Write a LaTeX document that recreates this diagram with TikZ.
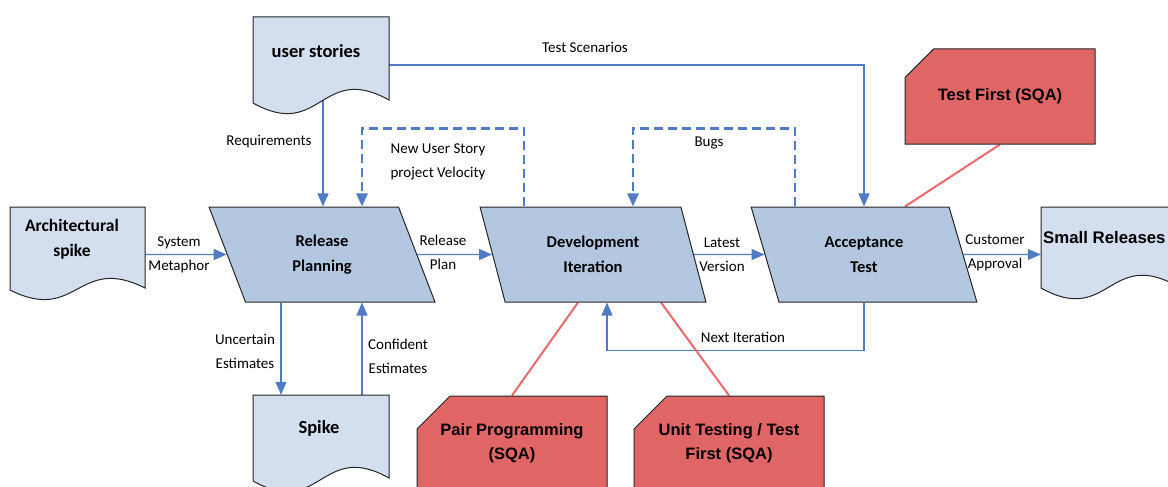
\documentclass[tikz,border=0pt]{standalone}
\usepackage{fontspec}
\setmainfont{Carlito}
\newfontfamily\arialf{Liberation Sans}
\usetikzlibrary{shapes.geometric,shapes.misc,arrows.meta}
\pgfdeclarelayer{bg}
\pgfsetlayers{bg,main}
\definecolor{parafill}{HTML}{B4C7E1}
\definecolor{docfill}{HTML}{D3DEEF}
\definecolor{redfill}{HTML}{E06666}
\definecolor{conn}{HTML}{4F7CC4}
\definecolor{redline}{HTML}{E86A6A}
\definecolor{outline}{HTML}{262626}
\begin{document}
\begin{tikzpicture}[x=1pt,y=-1pt,
  lbl/.style={font=\fontsize{15}{24}\selectfont, align=center, inner sep=0pt},
  para/.style={trapezium, trapezium left angle=110, trapezium right angle=70,
    trapezium stretches=true, minimum width=226pt, minimum height=95pt,
    draw=outline, line width=1pt, fill=parafill, align=center, inner sep=0pt,
    font=\fontsize{16.5}{24.5}\selectfont\bfseries},
  docbody/.style={rectangle, draw=none, inner sep=0pt},
  doctext/.style={font=\fontsize{18.5}{25}\selectfont\bfseries, align=center, inner sep=0pt},
  docshape/.style={draw=outline, fill=docfill, line width=1pt},
  sqa/.style={chamfered rectangle, chamfered rectangle corners=north west,
    chamfered rectangle xsep=12pt, chamfered rectangle ysep=21pt,
    draw=outline, fill=redfill, line width=1pt, minimum width=190pt,
    minimum height=95pt, inner sep=0pt, align=center,
    font=\arialf\bfseries\fontsize{16.5}{24}\selectfont},
  arr/.style={draw=conn, line width=1.3pt, -{Triangle[length=13pt,width=11pt]}},
  dasharr/.style={arr, line width=2.5pt, dash pattern=on 9pt off 5pt},
  redconn/.style={draw=redline, line width=2pt}]
\useasboundingbox (0,0) rectangle (1168,487);

% document shapes
\path[docshape] (10,207) -- (145,207) -- (145,288) .. controls (77.5,254) and (77.5,324) .. (10,290) -- cycle;
\path[docshape] (253,17) -- (389,17) -- (389,100) .. controls (321,62) and (321,141) .. (253,103) -- cycle;
\path[docshape] (253,395) -- (389,395) -- (389,478) .. controls (321,440) and (321,519) .. (253,481) -- cycle;
\path[docshape] (1041,207) -- (1177,207) -- (1177,286) .. controls (1109,248) and (1109,326) .. (1041,288) -- cycle;

\node[docbody, minimum width=135pt, minimum height=82pt] (arch) at (77.5,248) {};
\node[docbody, minimum width=136pt, minimum height=84pt] (us) at (321,59) {};
\node[docbody, minimum width=136pt, minimum height=84pt] (spike) at (321,437) {};
\node[docbody, minimum width=136pt, minimum height=80pt] (small) at (1109,247) {};

\node[doctext, font=\fontsize{17.5}{25}\selectfont\bfseries] (archT) at (72,239) {Architectural\\spike};
\node[doctext] (usT) at (316,51) {user stories};
\node[doctext] (spikeT) at (319,428) {Spike};
\node[doctext, anchor=west, font=\arialf\bfseries\fontsize{16.8}{24}\selectfont] (smallT) at (1043,237) {Small Releases};

% process shapes
\node[para] (relplan) at (322,254.5) {Release\\Planning};
\node[para] (dev) at (593,254.5) {Development\\Iteration};
\node[para] (accept) at (864,254.5) {Acceptance\\Test};

% SQA boxes
\node[sqa] (tf) at (1000,96.5) {Test First (SQA)};
\node[sqa] (pp) at (512,443.5) {Pair Programming\\(SQA)};
\node[sqa] (ut) at (729,443.5) {Unit Testing / Test\\First (SQA)};

\begin{pgfonlayer}{bg}
  \draw[arr] (arch.east |- relplan) -- (relplan);
  \draw[arr] (relplan) -- (dev);
  \draw[arr] (dev) -- (accept);
  \draw[arr] (accept) -- (small.west |- accept);
  \draw[arr] ([xshift=2pt]us.center) -- ([xshift=2pt]us.center |- relplan.north);
  \draw[arr] ([yshift=-6pt]us.east) -| (accept.north);
  \draw[dasharr] ([xshift=-69pt]dev.north) -- ++(0,-78) -| ([xshift=40pt]relplan.north);
  \draw[dasharr] ([xshift=-69pt]accept.north) -- ++(0,-78) -| ([xshift=40pt]dev.north);
  \draw[arr] (accept.south) -- ++(0,48) -| ([xshift=14pt]dev.south);
  \draw[arr] ([xshift=-41pt]relplan.south) -- ([xshift=-41pt]relplan.south |- spike.north);
  \draw[arr] ([xshift=41pt]spike.north) -- ([xshift=41pt]spike.north |- relplan.south);
  \draw[redconn] (tf.south) -- ([xshift=41pt]accept.north);
  \draw[redconn] ([xshift=-15pt]dev.south) -- (pp.north);
  \draw[redconn] ([xshift=68pt]dev.south) -- (ut.north);
\end{pgfonlayer}

% connector labels
\node[lbl] (lSM) at (179,255) {System\\Metaphor};
\node[lbl] (lRP) at (443,252) {Release\\Plan};
\node[lbl] (lLV) at (722,255) {Latest\\Version};
\node[lbl] (lCA) at (995,253) {Customer\\Approval};
\node[lbl] (lReq) at (269,142) {Requirements};
\node[lbl] (lNUS) at (438,162) {New User Story\\project Velocity};
\node[lbl] (lTS) at (585,47) {Test Scenarios};
\node[lbl] (lBugs) at (709,143) {Bugs};
\node[lbl] (lNI) at (743,337) {Next Iteration};
\node[lbl] (lUE) at (245,351) {Uncertain\\Estimates};
\node[lbl] (lCE) at (398,356) {Confident\\Estimates};
\end{tikzpicture}
\end{document}
